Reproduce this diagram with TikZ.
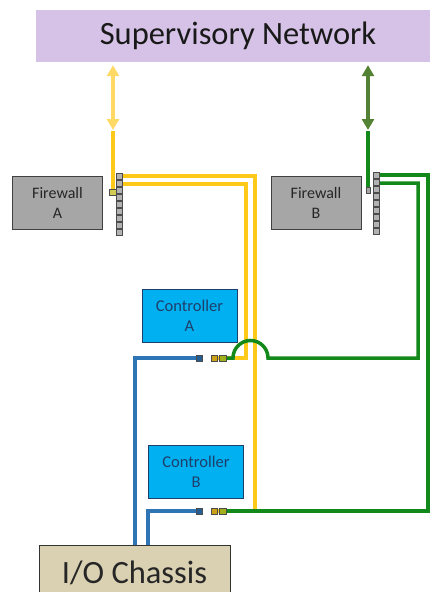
\documentclass[tikz,border=0pt]{standalone}
\usepackage{fontspec}
\setmainfont{Carlito}
\usetikzlibrary{arrows.meta,backgrounds}

\definecolor{supfill}{HTML}{D5C2E6}
\definecolor{fwfill}{HTML}{A6A6A6}
\definecolor{ctfill}{HTML}{00B0F0}
\definecolor{cttext}{HTML}{1F3F6B}
\definecolor{iofill}{HTML}{DAD0B2}
\definecolor{ycab}{HTML}{FFC91A}
\definecolor{yarr}{HTML}{FFD966}
\definecolor{gcab}{HTML}{12891A}
\definecolor{garr}{HTML}{548235}
\definecolor{bcab}{HTML}{2E75B6}

\tikzset{
  box/.style={draw=black!75, inner sep=0pt, align=center},
  fwbox/.style={box, fill=fwfill, text=black!85, minimum width=90pt, minimum height=53pt,
    font=\fontsize{16}{20}\selectfont},
  ctbox/.style={box, draw=cttext, fill=ctfill, text=cttext, minimum width=95pt, minimum height=53pt,
    font=\fontsize{16.5}{20}\selectfont},
  port/.style={draw=black!70, line width=0.6pt, inner sep=0pt, minimum width=6pt, minimum height=6pt},
  cable/.style={line width=3.5pt},
  ycable/.style={cable, draw=ycab},
  gcable/.style={cable, draw=gcab},
  bcable/.style={line width=3.5pt, draw=bcab},
  twoway/.style={line width=4pt, {Triangle[width=12pt,length=11pt]}-{Triangle[width=12pt,length=11pt]}},
}

\begin{document}
\begin{tikzpicture}[x=1pt,y=-1pt]
\useasboundingbox (0,0) rectangle (430,592);

% boxes
\node[fill=supfill, minimum width=404pt, minimum height=52pt, inner sep=0pt,
  font=\fontsize{32.5}{34}\selectfont, text=black!90] (sup) at (238,36) {Supervisory Network};
\node[fwbox] (fwa) at (57.5,202.5) {Firewall\\A};
\node[fwbox] (fwb) at (316,202.5) {Firewall\\B};
\node[ctbox] (cta) at (189.5,315.5) {Controller\\A};
\node[ctbox] (ctb) at (196,471.5) {Controller\\B};
\node[box, draw=black!80, line width=1pt, fill=iofill, minimum width=191pt, minimum height=56pt,
  font=\fontsize{32.5}{34}\selectfont, text=black!85] (io) at (134.5,573) {I/O Chassis};

% port strips and ports
\node[inner sep=0pt, minimum width=6pt, minimum height=63pt] (fap) at (119,204.5) {};
\node[inner sep=0pt, minimum width=6pt, minimum height=63pt] (fbp) at (376,203.5) {};
\foreach \i in {0,...,8}
  \draw[draw=black!70, fill=gray!60, line width=0.6pt] (116,173+7*\i) rectangle ++(6,6);
\foreach \i in {0,...,8}
  \draw[draw=black!70, fill=gray!60, line width=0.6pt] (373,172+7*\i) rectangle ++(6,6);
\node[port, fill=yellow!60!gray, minimum width=7pt] (fasp) at (113,192) {};
\node[port, fill=gray!70, minimum width=4pt] (fbsp) at (368,190) {};
\node[port, fill=bcab!80!black] (capb) at (199,358) {};
\node[port, fill=ycab!80!black] (capy) at (214.5,358) {};
\node[port, fill=ycab!60!gcab, minimum width=7pt] (capg) at (222.5,358) {};
\node[port, fill=bcab!80!black] (cbpb) at (199,511) {};
\node[port, fill=ycab!80!black] (cbpy) at (214.5,511) {};
\node[port, fill=ycab!60!gcab, minimum width=7pt] (cbpg) at (222.5,511) {};

\coordinate (yaend) at (113,130);
\coordinate (gaend) at (368,130);

\begin{scope}[on background layer]
% uplinks
\draw[twoway, draw=yarr, fill=yarr] ([yshift=-3pt]sup.south -| fasp) -- (yaend);
\draw[ycable] ([yshift=-1pt]yaend) -- (fasp.north);
\draw[twoway, draw=garr, fill=garr] ([yshift=-3pt]sup.south -| fbsp) -- (gaend);
\draw[gcable] ([yshift=-1pt]gaend) -- (fbsp.north);

% yellow pair from firewall A
\draw[ycable] (fap.east |- 0,176) -| (255,511) -- (cbpy.east);
\draw[ycable] (fap.east |- 0,184) -| (246,358) -- (capy.east);

% green pair from firewall B
\draw[gcable] (fbp.east |- 0,175) -| (428,511) -- (cbpg.east);
\draw[gcable] (fbp.east |- 0,183) -| (418,358) -- (268,358)
  arc[start angle=0, end angle=180, radius=17.5pt] -- (capg.east);

% blue links to I/O chassis
\draw[bcable] (capb.west) -| ([xshift=0.5pt]io.north);
\draw[bcable] (cbpb.west) -| ([xshift=13.5pt]io.north);
\end{scope}
\end{tikzpicture}
\end{document}
